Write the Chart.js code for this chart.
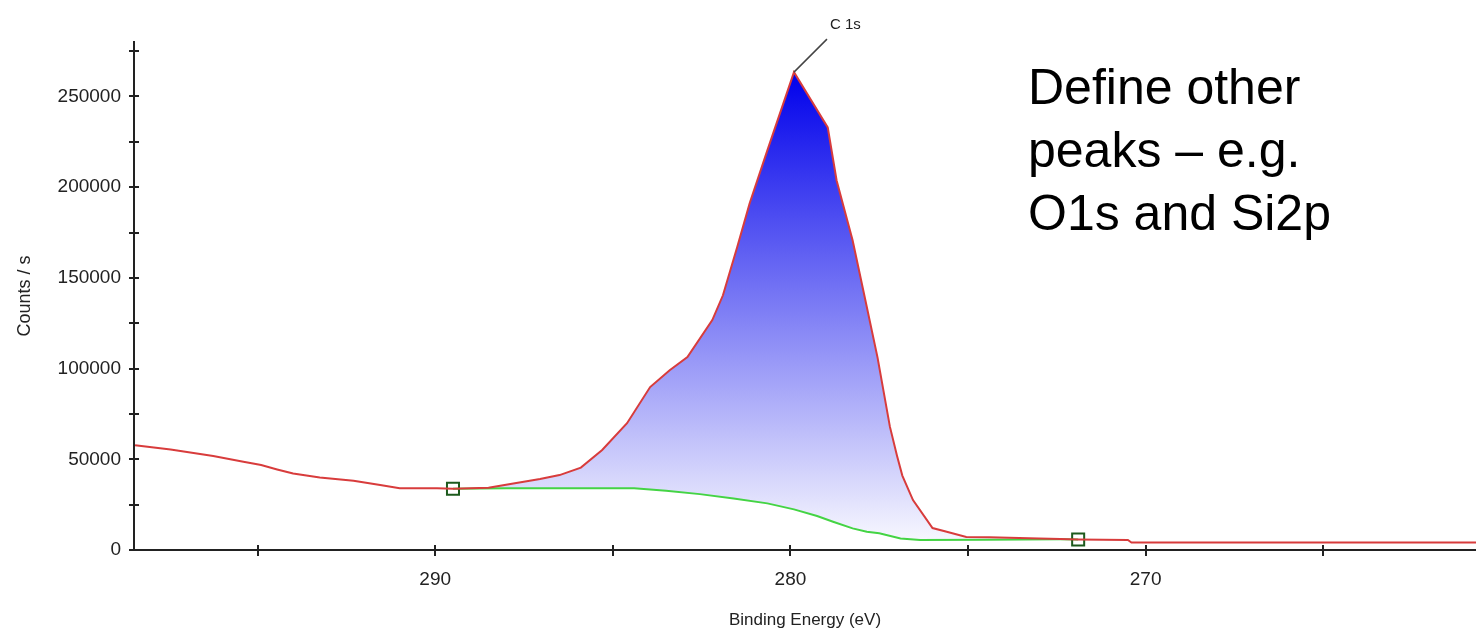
<!DOCTYPE html>
<html>
<head>
<meta charset="utf-8">
<script src="https://cdn.jsdelivr.net/npm/chart.js@4.4.1/dist/chart.umd.min.js"></script>
<style>
  body { margin: 0; background: #fff; }
  #wrap { position: relative; width: 1476px; height: 632px; overflow: hidden; }
  #nota { position: absolute; left: 1028px; top: 56px; font: 50px/63px "Liberation Sans", Arial, sans-serif; color: #000; white-space: nowrap; }
</style>
</head>
<body>
<div id="wrap">
  <canvas id="grafico" width="1476" height="632"></canvas>
  <div id="nota">Define other<br>peaks – e.g.<br>O1s and Si2p</div>
</div>
<script>
// espectro medido (linha vermelha)
const energia = [298.45, 297.45, 296.25, 295.4, 294.9, 294.45, 294.0, 293.25, 292.3, 291.55, 291.0, 289.95,
  289.5, 288.5, 287.8, 287.05, 286.5, 285.9, 285.3, 284.6, 283.95, 283.4, 282.9, 282.2, 281.9, 281.5,
  281.15, 280.65, 279.9, 278.95, 278.7, 278.25, 277.95, 277.55, 277.2, 277.0, 276.85, 276.55, 276.0,
  275.6, 275.05, 274.4, 273.0, 272.4, 271.9, 270.5, 270.4, 265.0, 260.7];
const contagens = [57800, 55400, 51800, 48600, 46800, 44400, 42200, 40000, 38200, 35800, 34000, 34000,
  33800, 34300, 36700, 39100, 41300, 45400, 55100, 69900, 89800, 99100, 106300, 126700, 140400, 166900,
  191000, 220300, 263400, 232900, 203700, 170700, 143200, 106300, 68000, 52000, 41000, 27500, 12100,
  10100, 7200, 7000, 6300, 6100, 5800, 5500, 4100, 4100, 4100];

// fundo (linha verde)
const fundoEnergia = [289.5, 288.0, 286.5, 284.4, 283.5, 282.55, 281.6, 280.65, 279.9, 279.25, 278.8,
  278.25, 277.85, 277.5, 276.9, 276.35, 274.5, 272.4, 271.9];
const fundoContagens = [33800, 34000, 34000, 34000, 32700, 30800, 28400, 25700, 22400, 18700, 15600,
  11900, 10100, 9200, 6400, 5500, 5600, 5900, 5800];

// marcas dos eixos
const ticksX = [295, 290, 285, 280, 275, 270, 265];
const rotulosX = [290, 280, 270];
const ticksY = [0, 25000, 50000, 75000, 100000, 125000, 150000, 175000, 200000, 225000, 250000, 275000];
const rotulosY = [0, 50000, 100000, 150000, 200000, 250000];

const nomePico = 'C 1s';

const inicioFundo = fundoEnergia[fundoEnergia.length - 1];
const fimFundo = fundoEnergia[0];

const espectro = energia.map((e, i) => ({ x: e, y: contagens[i] }));
const fundo = fundoEnergia.map((e, i) => ({ x: e, y: fundoContagens[i] }));
const areaPico = espectro.filter(p => p.x >= inicioFundo && p.x <= fimFundo);

const fonte = { family: '"Liberation Sans", Arial, sans-serif', size: 19 };

// marcas de escala que cruzam o eixo
const marcasEixo = {
  id: 'marcasEixo',
  afterDraw(chart) {
    const { ctx, chartArea, scales } = chart;
    ctx.save();
    ctx.strokeStyle = '#222';
    ctx.lineWidth = 2;
    ctx.beginPath();
    scales.x.ticks.forEach(t => {
      const px = Math.round(scales.x.getPixelForValue(t.value));
      ctx.moveTo(px, chartArea.bottom - 5);
      ctx.lineTo(px, chartArea.bottom + 6);
    });
    scales.y.ticks.forEach(t => {
      const py = Math.round(scales.y.getPixelForValue(t.value));
      ctx.moveTo(chartArea.left - 5, py);
      ctx.lineTo(chartArea.left + 5, py);
    });
    ctx.stroke();
    ctx.restore();
  }
};

// rótulo do pico com linha guia
const rotuloPico = {
  id: 'rotuloPico',
  afterDatasetsDraw(chart) {
    const { ctx, scales } = chart;
    const iMax = contagens.indexOf(Math.max(...contagens));
    const px = scales.x.getPixelForValue(energia[iMax]);
    const py = scales.y.getPixelForValue(contagens[iMax]);
    ctx.save();
    ctx.strokeStyle = '#444';
    ctx.lineWidth = 1.5;
    ctx.beginPath();
    ctx.moveTo(px, py);
    ctx.lineTo(px + 33, py - 33);
    ctx.stroke();
    ctx.fillStyle = '#222';
    ctx.font = '15px "Liberation Sans", Arial, sans-serif';
    ctx.textBaseline = 'alphabetic';
    ctx.fillText(nomePico, px + 36, py - 43);
    ctx.restore();
  }
};

const ctx = document.getElementById('grafico').getContext('2d');
new Chart(ctx, {
  type: 'line',
  data: {
    datasets: [
      {
        label: 'Espectro',
        data: espectro,
        borderColor: '#d83c3c',
        borderWidth: 2,
        pointRadius: 0,
        fill: false,
        tension: 0
      },
      {
        label: 'Fundo',
        data: fundo,
        borderColor: '#44d444',
        borderWidth: 2,
        fill: false,
        tension: 0,
        pointStyle: 'rect',
        pointRadius: c => (c.dataIndex === 0 || c.dataIndex === fundo.length - 1) ? 8.5 : 0,
        pointBorderColor: '#1d5a1d',
        pointBackgroundColor: 'rgba(0,0,0,0)',
        pointBorderWidth: 2
      },
      {
        label: nomePico,
        data: areaPico,
        borderWidth: 0,
        pointRadius: 0,
        fill: 1,
        tension: 0,
        backgroundColor: function (c) {
          const chart = c.chart;
          const { chartArea, scales } = chart;
          if (!chartArea) return 'rgba(0,0,235,0.5)';
          const topo = scales.y.getPixelForValue(Math.max(...contagens));
          const base = scales.y.getPixelForValue(0);
          const g = chart.ctx.createLinearGradient(0, topo, 0, base);
          g.addColorStop(0, 'rgb(0,0,235)');
          g.addColorStop(1, 'rgb(252,252,255)');
          return g;
        }
      }
    ]
  },
  options: {
    responsive: false,
    animation: false,
    layout: { autoPadding: false, padding: { top: 42, right: 0, left: 0, bottom: 0 } },
    plugins: {
      legend: { display: false },
      tooltip: { enabled: false }
    },
    scales: {
      x: {
        type: 'linear',
        reverse: true,
        min: 260.7,
        max: 298.48,
        afterFit: s => { s.height = 82; },
        afterBuildTicks: s => { s.ticks = ticksX.map(v => ({ value: v })); },
        grid: { display: true, drawOnChartArea: false, drawTicks: false },
        border: { display: true, color: '#222', width: 2 },
        ticks: {
          autoSkip: false,
          maxRotation: 0,
          padding: 18,
          color: '#222',
          font: fonte,
          callback: v => (rotulosX.includes(v) ? String(v) : '')
        },
        title: {
          display: true,
          text: 'Binding Energy (eV)',
          color: '#222',
          font: { family: fonte.family, size: 17 },
          padding: { top: 0, bottom: 1 }
        }
      },
      y: {
        min: 0,
        max: 280000,
        afterFit: s => { s.width = 134; },
        afterBuildTicks: s => { s.ticks = ticksY.map(v => ({ value: v })); },
        grid: { display: true, drawOnChartArea: false, drawTicks: false },
        border: { display: true, color: '#222', width: 2 },
        ticks: {
          autoSkip: false,
          padding: 13,
          color: '#222',
          font: fonte,
          callback: v => (rotulosY.includes(v) ? String(v) : '')
        },
        title: {
          display: true,
          text: 'Counts / s',
          color: '#222',
          font: { family: fonte.family, size: 18 },
          padding: { top: 14, bottom: 0 }
        }
      }
    }
  },
  plugins: [marcasEixo, rotuloPico]
});
</script>
</body>
</html>
